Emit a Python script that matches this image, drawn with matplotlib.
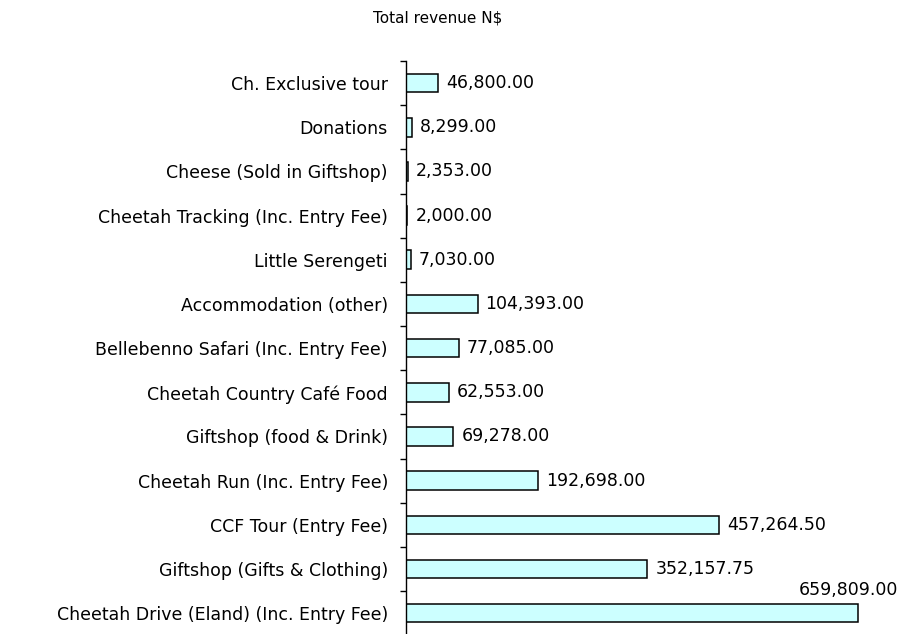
import matplotlib.pyplot as plt
import numpy as np

# ---------------- DATA ----------------

categories = [
    "Cheetah Drive (Eland) (Inc. Entry Fee)",
    "Giftshop (Gifts & Clothing)",
    "CCF Tour (Entry Fee)",
    "Cheetah Run (Inc. Entry Fee)",
    "Giftshop (food & Drink)",
    "Cheetah Country Café Food",
    "Bellebenno Safari (Inc. Entry Fee)",
    "Accommodation (other)",
    "Little Serengeti",
    "Cheetah Tracking (Inc. Entry Fee)",
    "Cheese (Sold in Giftshop)",
    "Donations",
    "Ch. Exclusive tour",
]

revenue = [659809.00, 352157.75, 457264.50, 192698.00, 69278.00, 62553.00,
           77085.00, 104393.00, 7030.00, 2000.00, 2353.00, 8299.00, 46800.00]

# ---------------- FIGURE ----------------

plt.rcParams['font.family'] = ['DejaVu Sans']

fig = plt.figure(figsize=(9.13, 6.34), dpi=100)
ax = fig.add_axes([406 / 913, -0.0019, (870 - 406) / 913, 0.9057])

y = np.arange(len(categories))
ax.barh(y, revenue, height=0.42, color='#CCFFFF', edgecolor='black', linewidth=1.1)

xmax = 659809 * (870 - 406) / 452
ax.set_xlim(0, xmax)
ax.set_ylim(-0.5, len(categories) - 0.5)

# value labels
for i, v in enumerate(revenue):
    txt = f"{v:,.2f}"
    if v == max(revenue):
        ax.annotate(txt, (v, i), xytext=(40, 23), textcoords='offset pixels',
                    ha='right', va='center', fontsize=12.5)
    else:
        ax.annotate(txt, (v, i), xytext=(8, 0), textcoords='offset pixels',
                    ha='left', va='center', fontsize=12.5)

# axes styling
for s in ['top', 'right', 'bottom']:
    ax.spines[s].set_visible(False)
ax.spines['left'].set_linewidth(1.0)
ax.set_xticks([])
ax.set_yticks(y)
ax.set_yticklabels(categories, fontsize=12.5)
ax.tick_params(axis='y', which='major', length=0, pad=13)
ax.set_yticks(np.arange(len(categories) + 1) - 0.5, minor=True)
ax.tick_params(axis='y', which='minor', length=4, width=1.0, direction='out')

fig.text(438 / 913, 1 - 18 / 634, "Total revenue N$", ha='center', va='center', fontsize=11)

fig.savefig('out.png', dpi=100)
